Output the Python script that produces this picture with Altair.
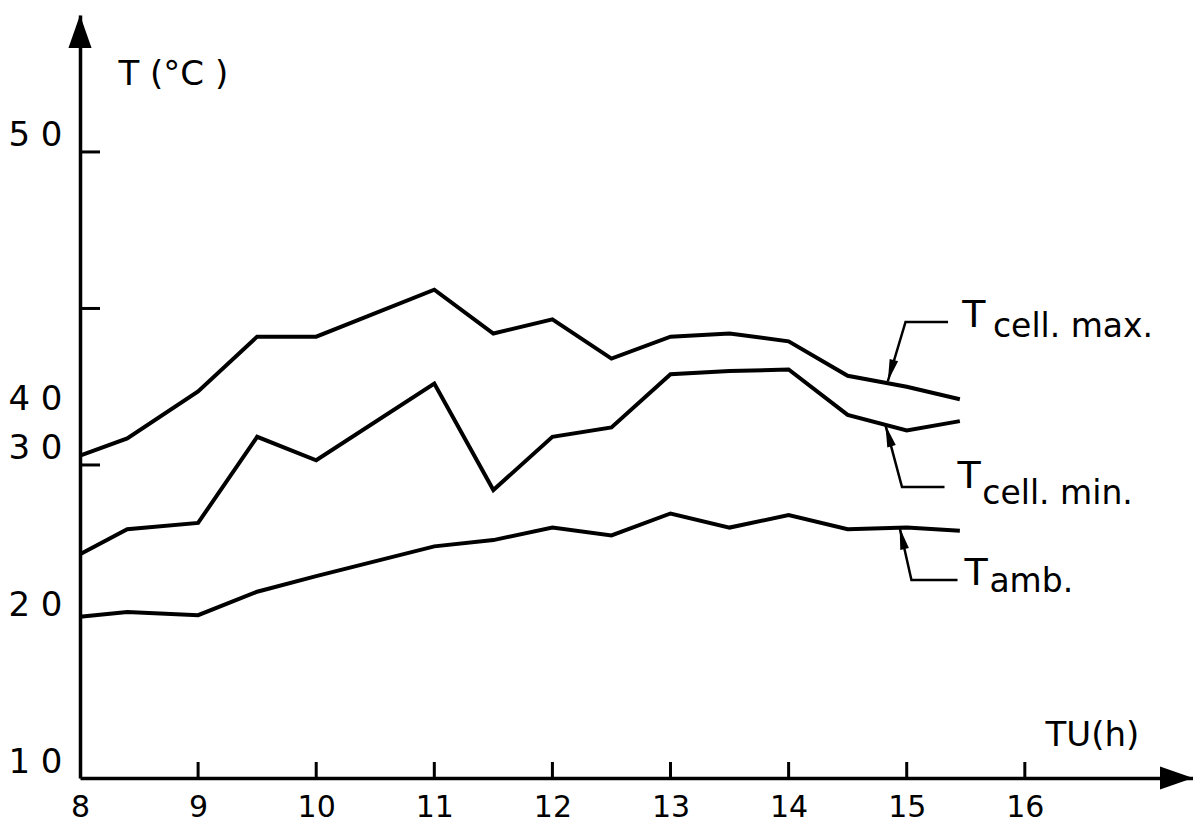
import altair as alt
import pandas as pd

# ---- data ----
hours = [8, 8.4, 9, 9.5, 10, 11, 11.5, 12, 12.5, 13, 13.5, 14, 14.5, 15, 15.45]
t_cell_max = [30.6, 31.7, 34.7, 38.2, 38.2, 41.2, 38.4, 39.3, 36.8, 38.2, 38.4, 37.9, 35.7, 35.0, 34.2]
t_cell_min = [24.3, 25.9, 26.3, 31.8, 30.3, 35.2, 28.4, 31.8, 32.4, 35.8, 36.0, 36.1, 33.2, 32.2, 32.8]
t_amb = [20.3, 20.6, 20.4, 21.9, 22.9, 24.8, 25.2, 26.0, 25.5, 26.9, 26.0, 26.8, 25.9, 26.0, 25.8]
series_names = ["Tcell_max", "Tcell_min", "Tamb"]
x_ticks = [8, 9, 10, 11, 12, 13, 14, 15, 16]
y_ticks = [10, 20, 30, 40, 50]

# annotations (leader lines: end, corner, tip), label anchors
lead_group = ["max", "max", "max", "min", "min", "min", "amb", "amb", "amb"]
lead_ord = [0, 1, 2, 0, 1, 2, 0, 1, 2]
lead_x = [15.35, 14.99, 14.84, 15.32, 14.96, 14.82, 15.43, 15.04, 14.94]
lead_y = [39.14, 39.14, 35.35, 28.59, 28.59, 32.55, 22.65, 22.65, 26.0]
tip_x = [14.84, 14.82, 14.94]
tip_y = [35.35, 32.55, 26.0]
tip_angle = [196, 344, 347]
big_txt = ["T", "T", "T"]
big_x = [15.47, 15.43, 15.49]
big_y = [38.82, 28.53, 22.33]
sub_txt = ["cell. max.", "cell. min.", "amb."]
sub_x = [15.73, 15.64, 15.70]
sub_y = [38.18, 27.51, 21.88]

FONT = "DejaVu Sans"
X_MIN, X_MAX = 8, 17.424
Y_MIN, Y_MAX = 10, 58.75
W, H = 1113, 763

xs = alt.Scale(domain=[X_MIN, X_MAX], nice=False, zero=False)
ys = alt.Scale(domain=[Y_MIN, Y_MAX], nice=False, zero=False)

rows = []
for name, vals in zip(series_names, [t_cell_max, t_cell_min, t_amb]):
    for h, v in zip(hours, vals):
        rows.append({"hour": h, "temp": v, "series": name})
df = pd.DataFrame(rows)

x_axis = alt.Axis(
    values=x_ticks, format="d", ticks=False, tickSize=0, grid=False,
    domainColor="black", domainWidth=3.5,
    labelFont=FONT, labelFontSize=30, labelColor="black", labelPadding=14,
    labelFlush=False, labelOverlap=False,
    title="TU(h)", titleFont=FONT, titleFontSize=34, titleFontWeight="normal",
    titleColor="black", titleAngle=0, titleAlign="left", titleBaseline="alphabetic",
    titleX=965, titleY=-33,
)
y_axis = alt.Axis(
    values=y_ticks, ticks=False, tickSize=0, grid=False,
    domainColor="black", domainWidth=3.5,
    labelFont=FONT, labelFontSize=34, labelColor="black", labelPadding=18,
    labelFlush=False, labelOverlap=False, labelBaseline="middle",
    labelExpr="substring(datum.label,0,1) + ' ' + substring(datum.label,1)",
    labelOffset={"condition": {"test": "datum.value === 40", "value": 91}, "value": -16},
    title="T (°C )", titleFont=FONT, titleFontSize=34, titleFontWeight="normal",
    titleColor="black", titleAngle=0, titleAlign="left", titleBaseline="alphabetic",
    titleX=38, titleY=69,
)

lines = alt.Chart(df).mark_line(color="black", strokeWidth=4, strokeJoin="miter").encode(
    x=alt.X("hour:Q", scale=xs, axis=x_axis),
    y=alt.Y("temp:Q", scale=ys, axis=y_axis),
    detail="series:N",
)

# upward tick marks on the time axis, drawn as short vertical stroke symbols
xt_df = pd.DataFrame({"tick_x": x_ticks[1:], "tick_base": [Y_MIN] * len(x_ticks[1:])})
xt = alt.Chart(xt_df).mark_point(
    shape="M0,0 L0,-2", filled=False, color="black", strokeWidth=3, opacity=1, size=256
).encode(x=alt.X("tick_x:Q", scale=xs), y=alt.Y("tick_base:Q", scale=ys))
yt = alt.Chart(pd.DataFrame({"tick_y": y_ticks[2:]})).mark_rule(color="black", strokeWidth=3).encode(
    y=alt.Y("tick_y:Q", scale=ys), x=alt.value(0), x2=alt.value(20)
)

one = pd.DataFrame({"a": [0]})
y_arrow = alt.Chart(one).mark_point(
    shape="M0,0 L0.7,2 L-0.7,2 Z", filled=True, color="black", opacity=1, size=1089
).encode(x=alt.value(0), y=alt.value(0))
x_arrow = alt.Chart(one).mark_point(
    shape="M0,0 L-2,-0.7 L-2,0.7 Z", filled=True, color="black", opacity=1, size=1089
).encode(x=alt.value(W), y=alt.value(H))

lead_df = pd.DataFrame({"lx": lead_x, "ly": lead_y, "g": lead_group, "o": lead_ord})
leaders = alt.Chart(lead_df).mark_line(color="black", strokeWidth=2.5).encode(
    x=alt.X("lx:Q", scale=xs), y=alt.Y("ly:Q", scale=ys), detail="g:N", order="o:Q"
)
tips = alt.Chart(pd.DataFrame({"px": tip_x, "py": tip_y, "a": tip_angle})).mark_point(
    shape="M0,0 L0.4,2 L-0.4,2 Z", filled=True, color="black", opacity=1, size=484
).encode(x=alt.X("px:Q", scale=xs), y=alt.Y("py:Q", scale=ys), angle=alt.Angle("a:Q", scale=None))

big = alt.Chart(pd.DataFrame({"bx": big_x, "by": big_y, "label": big_txt})).mark_text(
    font=FONT, fontSize=38, align="left", baseline="alphabetic", color="black"
).encode(x=alt.X("bx:Q", scale=xs), y=alt.Y("by:Q", scale=ys), text="label:N")
sub = alt.Chart(pd.DataFrame({"sx": sub_x, "sy": sub_y, "label": sub_txt})).mark_text(
    font=FONT, fontSize=33, align="left", baseline="alphabetic", color="black"
).encode(x=alt.X("sx:Q", scale=xs), y=alt.Y("sy:Q", scale=ys), text="label:N")

chart = alt.layer(lines, y_arrow, x_arrow, leaders, tips, big, sub, yt, xt).properties(
    width=W, height=H,
    background="white",
    view=alt.ViewBackground(stroke="transparent", strokeWidth=0),
    autosize=alt.AutoSizeParams(type="none"),
    padding={"left": 72, "top": 7, "right": 0, "bottom": 47},
).configure_view(stroke="transparent", strokeWidth=0)

chart.save("out.html", embed_options={"renderer": "svg", "actions": False})
